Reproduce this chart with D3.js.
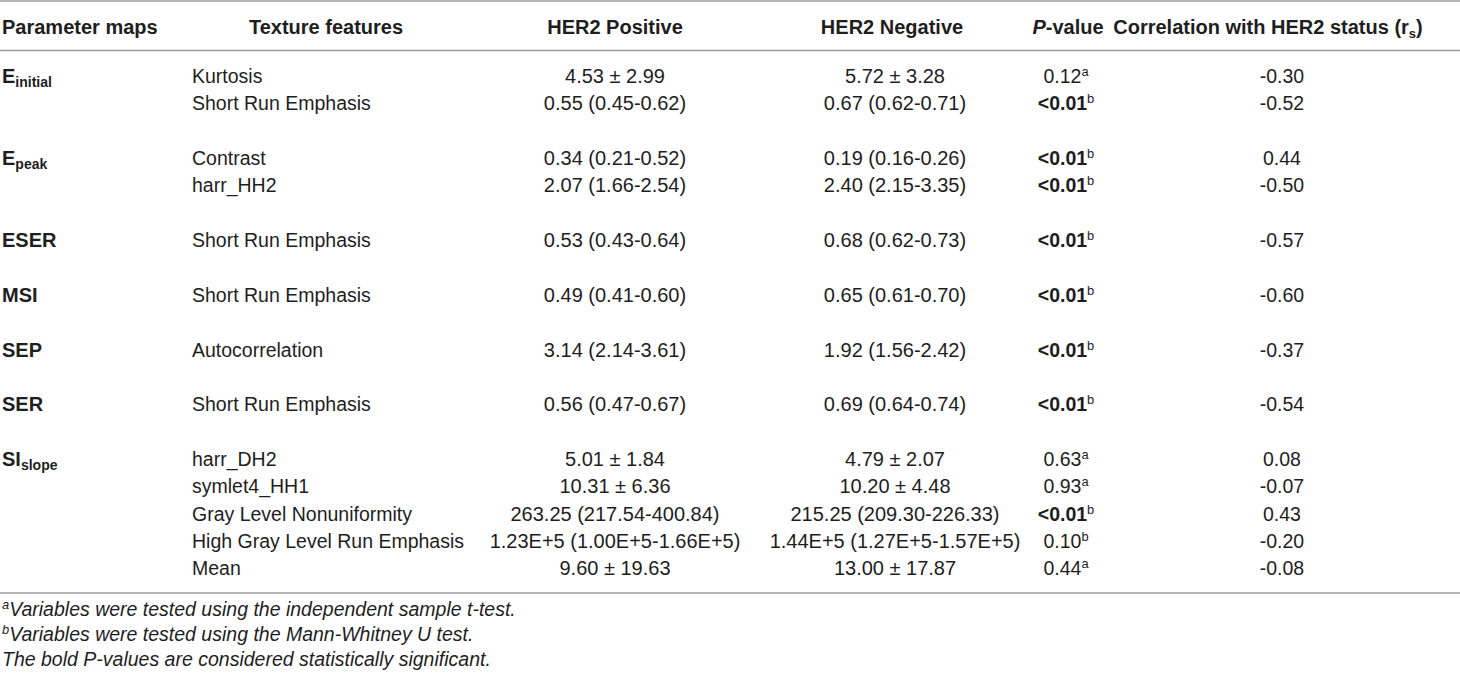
<!DOCTYPE html>
<html>
<head>
<meta charset="utf-8">
<script src="https://cdn.jsdelivr.net/npm/d3@7"></script>
<style>
  body { margin: 0; background: #fff; }
  text { font-family: "Liberation Sans", Arial, sans-serif; }
</style>
</head>
<body>
<div id="vis"></div>
<script>
'use strict'

// parameter maps: name + subscript, and how many feature rows each one spans
const paramNames = ["E", "E", "ESER", "MSI", "SEP", "SER", "SI"];
const paramSubs = ["initial", "peak", "", "", "", "", "slope"];
const paramRows = [2, 2, 1, 1, 1, 1, 5];

const features = [
  "Kurtosis", "Short Run Emphasis",
  "Contrast", "harr_HH2",
  "Short Run Emphasis",
  "Short Run Emphasis",
  "Autocorrelation",
  "Short Run Emphasis",
  "harr_DH2", "symlet4_HH1", "Gray Level Nonuniformity", "High Gray Level Run Emphasis", "Mean"
];
const her2Positive = [
  "4.53 ± 2.99", "0.55 (0.45-0.62)",
  "0.34 (0.21-0.52)", "2.07 (1.66-2.54)",
  "0.53 (0.43-0.64)",
  "0.49 (0.41-0.60)",
  "3.14 (2.14-3.61)",
  "0.56 (0.47-0.67)",
  "5.01 ± 1.84", "10.31 ± 6.36", "263.25 (217.54-400.84)", "1.23E+5 (1.00E+5-1.66E+5)", "9.60 ± 19.63"
];
const her2Negative = [
  "5.72 ± 3.28", "0.67 (0.62-0.71)",
  "0.19 (0.16-0.26)", "2.40 (2.15-3.35)",
  "0.68 (0.62-0.73)",
  "0.65 (0.61-0.70)",
  "1.92 (1.56-2.42)",
  "0.69 (0.64-0.74)",
  "4.79 ± 2.07", "10.20 ± 4.48", "215.25 (209.30-226.33)", "1.44E+5 (1.27E+5-1.57E+5)", "13.00 ± 17.87"
];
const pValues = ["0.12", "<0.01", "<0.01", "<0.01", "<0.01", "<0.01", "<0.01", "<0.01", "0.63", "0.93", "<0.01", "0.10", "0.44"];
const pTests = ["a", "b", "b", "b", "b", "b", "b", "b", "a", "a", "b", "b", "a"];
const correlations = [-0.30, -0.52, 0.44, -0.50, -0.57, -0.60, -0.37, -0.54, 0.08, -0.07, 0.43, -0.20, -0.08];

const footnotes = [
  ["a", "Variables were tested using the independent sample t-test."],
  ["b", "Variables were tested using the Mann-Whitney U test."],
  ["", "The bold P-values are considered statistically significant."]
];

////////////////////////////////////////
/////////////// Options ////////////////
////////////////////////////////////////

const options = {
  width: 1460,
  height: 677,
  fontSize: 19.5,
  numSize: 20,
  headSize: 20,
  ink: "#1e1e1e",
  rule: "#9a9a9a",
  firstRow: 76,
  rowStep: 27.35
};

const svg = d3.select('#vis').append('svg')
  .attr('width', options.width)
  .attr('height', options.height)
  .attr('viewBox', `0 0 ${options.width} ${options.height}`);

////////////////////////////////////////
////////////// Scales //////////////////
////////////////////////////////////////

// each table row gets a slot; groups are separated by one empty slot
let slots = [];
let groupSlot = [];
let slot = 0;
paramRows.forEach((n, g) => {
  groupSlot.push(slot);
  for (let i = 0; i < n; i++) slots.push(slot + i);
  slot += n + 1;
});
const nSlots = slot - 1;

const y = d3.scaleLinear()
  .domain([0, nSlots - 1])
  .range([options.firstRow, options.firstRow + (nSlots - 1) * options.rowStep]);

const columns = ["param", "feature", "pos", "neg", "p", "corr"];
const x = d3.scaleOrdinal().domain(columns).range([2, 192, 615, 895, 1066, 1282]);
const headerX = d3.scaleOrdinal().domain(columns).range([2, 326, 615, 892, 1068, 1268]);

const fmt = d3.format(".2f");
const fmtCorr = v => (v < 0 ? "-" : "") + fmt(Math.abs(v));

////////////////////////////////////////
////////////// Rules ///////////////////
////////////////////////////////////////

svg.selectAll('line.rule')
  .data([1, 50.5, 593])
  .join('line')
  .attr('class', 'rule')
  .attr('x1', 0).attr('x2', options.width)
  .attr('y1', d => d).attr('y2', d => d)
  .attr('stroke', options.rule)
  .attr('stroke-width', 1.6);

////////////////////////////////////////
////////////// Header //////////////////
////////////////////////////////////////

const header = svg.append('g')
  .attr('font-size', options.headSize)
  .attr('font-weight', 'bold')
  .attr('fill', options.ink);

const headY = 34;
header.append('text').attr('x', headerX('param')).attr('y', headY).text('Parameter maps');
header.append('text').attr('x', headerX('feature')).attr('y', headY).attr('text-anchor', 'middle').text('Texture features');
header.append('text').attr('x', headerX('pos')).attr('y', headY).attr('text-anchor', 'middle').text('HER2 Positive');
header.append('text').attr('x', headerX('neg')).attr('y', headY).attr('text-anchor', 'middle').text('HER2 Negative');

const pHead = header.append('text').attr('x', headerX('p')).attr('y', headY).attr('text-anchor', 'middle');
pHead.append('tspan').attr('font-style', 'italic').text('P');
pHead.append('tspan').text('-value');

const cHead = header.append('text').attr('x', headerX('corr')).attr('y', headY).attr('text-anchor', 'middle');
cHead.append('tspan').text('Correlation with HER2 status (r');
cHead.append('tspan').attr('font-size', options.headSize * 0.65).attr('dy', 4).text('s');
cHead.append('tspan').attr('dy', -4).text(')');

////////////////////////////////////////
////////////// Body ////////////////////
////////////////////////////////////////

const body = svg.append('g')
  .attr('font-size', options.fontSize)
  .attr('fill', options.ink);

const baseShift = 7;

// parameter map names
const params = body.selectAll('text.param')
  .data(paramNames.map((d, i) => ({ name: d, sub: paramSubs[i], slot: groupSlot[i] })))
  .join('text')
  .attr('class', 'param')
  .attr('x', x('param'))
  .attr('y', d => y(d.slot) + baseShift)
  .attr('font-size', options.headSize)
  .attr('font-weight', 'bold');
params.append('tspan').text(d => d.name);
params.filter(d => d.sub)
  .append('tspan')
  .attr('font-size', options.headSize * 0.7)
  .attr('dy', 4)
  .text(d => d.sub);

const rows = features.map((f, i) => ({
  feature: f,
  pos: her2Positive[i],
  neg: her2Negative[i],
  p: pValues[i],
  test: pTests[i],
  corr: correlations[i],
  slot: slots[i]
}));

body.selectAll('text.feature')
  .data(rows)
  .join('text')
  .attr('class', 'feature')
  .attr('x', x('feature'))
  .attr('y', d => y(d.slot) + baseShift)
  .text(d => d.feature);

body.selectAll('text.pos')
  .data(rows)
  .join('text')
  .attr('class', 'pos')
  .attr('x', x('pos'))
  .attr('y', d => y(d.slot) + baseShift)
  .attr('font-size', options.numSize)
  .attr('text-anchor', 'middle')
  .text(d => d.pos);

body.selectAll('text.neg')
  .data(rows)
  .join('text')
  .attr('class', 'neg')
  .attr('x', x('neg'))
  .attr('y', d => y(d.slot) + baseShift)
  .attr('font-size', options.numSize)
  .attr('text-anchor', 'middle')
  .text(d => d.neg);

const pText = body.selectAll('text.pval')
  .data(rows)
  .join('text')
  .attr('class', 'pval')
  .attr('x', x('p'))
  .attr('y', d => y(d.slot) + baseShift)
  .attr('text-anchor', 'middle');
pText.append('tspan')
  .attr('font-weight', d => d.p.startsWith('<') ? 'bold' : null)
  .text(d => d.p);
pText.append('tspan')
  .attr('font-size', options.fontSize * 0.66)
  .attr('dy', -7)
  .text(d => d.test);

body.selectAll('text.corr')
  .data(rows)
  .join('text')
  .attr('class', 'corr')
  .attr('x', x('corr'))
  .attr('y', d => y(d.slot) + baseShift)
  .attr('text-anchor', 'middle')
  .text(d => fmtCorr(d.corr));

////////////////////////////////////////
////////////// Footnotes ///////////////
////////////////////////////////////////

const notes = svg.append('g')
  .attr('font-size', options.fontSize)
  .attr('font-style', 'italic')
  .attr('fill', options.ink);

const note = notes.selectAll('text')
  .data(footnotes)
  .join('text')
  .attr('x', 2)
  .attr('y', (d, i) => 616 + i * 25);
note.append('tspan')
  .attr('font-size', options.fontSize * 0.66)
  .attr('dy', -7)
  .text(d => d[0]);
note.append('tspan')
  .attr('dy', d => d[0] ? 7 : 0)
  .text(d => d[1]);
</script>
</body>
</html>
